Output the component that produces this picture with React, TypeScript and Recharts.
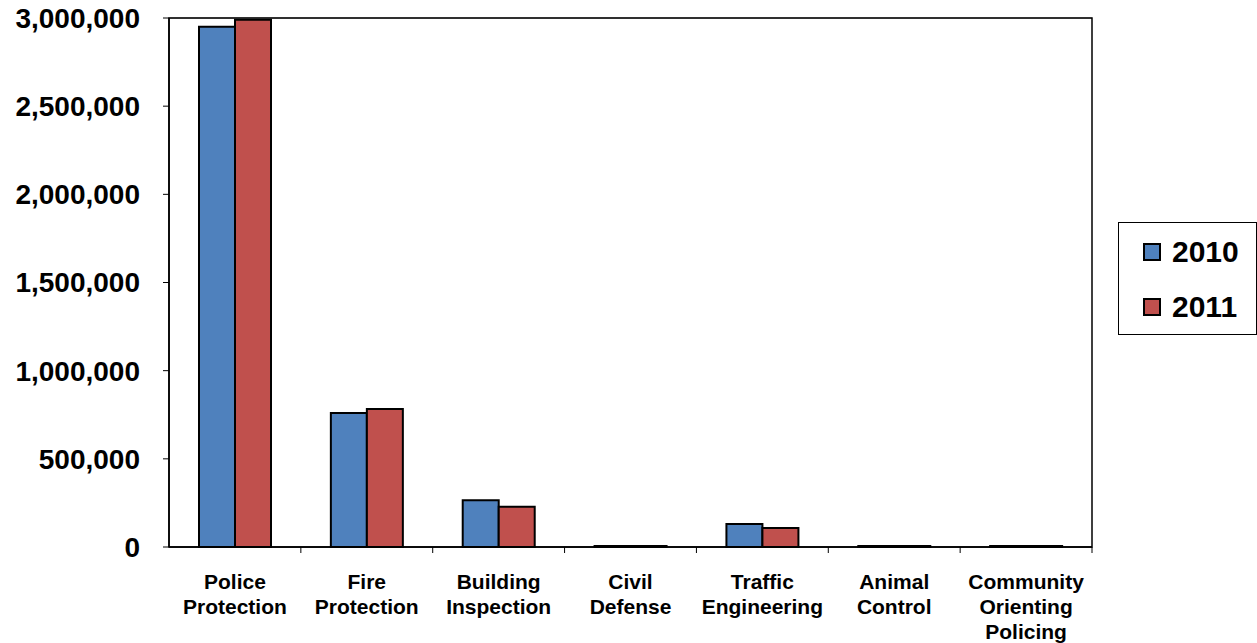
import { Bar, BarChart, CartesianGrid, ReferenceArea, XAxis, YAxis } from 'recharts';

const categories = [
  'Police Protection',
  'Fire Protection',
  'Building Inspection',
  'Civil Defense',
  'Traffic Engineering',
  'Animal Control',
  'Community Orienting Policing',
];
const labelLines = [
  ['Police', 'Protection'],
  ['Fire', 'Protection'],
  ['Building', 'Inspection'],
  ['Civil', 'Defense'],
  ['Traffic', 'Engineering'],
  ['Animal', 'Control'],
  ['Community', 'Orienting', 'Policing'],
];
const values2010 = [2950000, 760000, 265000, 6000, 130000, 6000, 5000];
const values2011 = [2990000, 782000, 228000, 6000, 108000, 6000, 5000];
const yTicks = [0, 500000, 1000000, 1500000, 2000000, 2500000, 3000000];

const data = categories.map((name, i) => ({
  name,
  lines: labelLines[i],
  y2010: values2010[i],
  y2011: values2011[i],
}));

const FONT = 'Arial, "Liberation Sans", sans-serif';
const WIDTH = 1257;
const HEIGHT = 643;
const MARGIN = { top: 18, right: 165, bottom: 0, left: 0 };
const Y_WIDTH = 169;
const BAND = (WIDTH - MARGIN.right - Y_WIDTH) / categories.length;

function CategoryTick(props: any) {
  const { x, y, payload, index } = props;
  const lines: string[] = data[index]?.lines ?? [payload.value];
  const right = x + BAND / 2;
  return (
    <g>
      <line x1={right} x2={right} y1={y - 8} y2={y - 2} stroke="#000" strokeWidth={1} />
      <text
        x={x}
        y={y + 34}
        textAnchor="middle"
        fontFamily={FONT}
        fontWeight="bold"
        fontSize={21}
        fill="#000"
      >
        {lines.map((l, i) => (
          <tspan key={i} x={x} dy={i === 0 ? 0 : 25}>
            {l}
          </tspan>
        ))}
      </text>
    </g>
  );
}

const legendItems = [
  { label: '2010', color: '#4F81BD' },
  { label: '2011', color: '#C0504D' },
];

export default function App() {
  return (
    <div style={{ position: 'absolute', left: 0, top: 0, width: WIDTH, height: HEIGHT, background: '#fff' }}>
      <BarChart width={WIDTH} height={HEIGHT} data={data} margin={MARGIN} barCategoryGap={30} barGap={0}>
        <CartesianGrid vertical={false} stroke="#808080" strokeWidth={1} />
        <ReferenceArea
          yAxisId="left"
          y1={0}
          y2={3000000}
          fill="none"
          fillOpacity={0}
          stroke="#000"
          strokeWidth={1.5}
        />
        <XAxis
          dataKey="name"
          height={96}
          axisLine={{ stroke: '#000', strokeWidth: 1.5 }}
          tickLine={false}
          tick={<CategoryTick />}
          interval={0}
        />
        <YAxis
          yAxisId="left"
          width={Y_WIDTH}
          domain={[0, 3000000]}
          ticks={yTicks}
          interval={0}
          axisLine={{ stroke: '#000', strokeWidth: 1.5 }}
          tickLine={{ stroke: '#000' }}
          tickSize={6}
          tickMargin={23}
          tickFormatter={(v: number) => v.toLocaleString('en-US')}
          tick={{ fontFamily: FONT, fontWeight: 'bold', fontSize: 28, fill: '#000' }}
        />
        <Bar
          yAxisId="left"
          dataKey="y2010"
          name="2010"
          fill="#4F81BD"
          stroke="#000"
          strokeWidth={2}
          isAnimationActive={false}
        />
        <Bar
          yAxisId="left"
          dataKey="y2011"
          name="2011"
          fill="#C0504D"
          stroke="#000"
          strokeWidth={2}
          isAnimationActive={false}
        />
      </BarChart>
      <div
        style={{
          position: 'absolute',
          left: 1118,
          top: 222,
          width: 139,
          height: 113,
          border: '1px solid #000',
          boxSizing: 'border-box',
          fontFamily: FONT,
          fontWeight: 'bold',
          fontSize: 30,
          color: '#000',
        }}
      >
        {legendItems.map((s, i) => (
          <div
            key={s.label}
            style={{
              position: 'absolute',
              left: 24,
              top: 14 + i * 55,
              display: 'flex',
              alignItems: 'center',
              height: 30,
              lineHeight: '30px',
            }}
          >
            <span
              style={{
                display: 'inline-block',
                width: 18,
                height: 18,
                background: s.color,
                border: '2px solid #000',
                boxSizing: 'border-box',
                marginRight: 11,
              }}
            />
            {s.label}
          </div>
        ))}
      </div>
    </div>
  );
}
